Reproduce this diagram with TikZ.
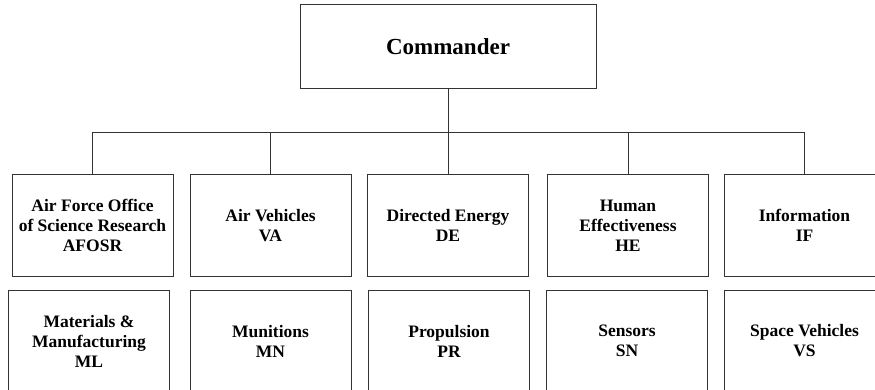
\documentclass[tikz,border=0pt]{standalone}
\usepackage{fontspec}
\setmainfont{Liberation Serif}

\begin{document}
\begin{tikzpicture}[x=1pt,y=1pt]

\def\horispace{178}
\def\vertspace{115.5}

\tikzstyle{unit}=[rectangle,draw=black!80,line width=1pt,minimum width=161pt,minimum height=101pt,inner sep=0pt,align=center,font=\fontsize{17.5}{20}\selectfont\bfseries]
\tikzstyle{head}=[unit,minimum width=296pt,minimum height=84pt,font=\fontsize{23}{26}\selectfont\bfseries]
\tikzstyle{link}=[draw=black!80,line width=1pt]

\useasboundingbox (0,0) rectangle (875,-390);

%commander
\node[head] (cmd) at (448,-47) {Commander};

%directorates, first row
\node[unit] (afosr) at (92.5,-225.5) {Air Force Office\\of Science Research\\AFOSR};
\node[unit] (va) at (270.5,-225.5) {Air Vehicles\\VA};
\node[unit] (de) at (448,-225.5) {Directed Energy\\DE};
\node[unit] (he) at (628,-225.5) {Human\\Effectiveness\\HE};
\node[unit] (inf) at (804.5,-225.5) {Information\\IF};

%directorates, second row
\node[unit] (ml) at (89,-225.5-\vertspace) {Materials \&\\Manufacturing\\ML};
\node[unit] (mn) at (270.5,-225.5-\vertspace) {Munitions\\MN};
\node[unit] (pr) at (449,-225.5-\vertspace) {Propulsion\\PR};
\node[unit] (sn) at (627,-225.5-\vertspace) {Sensors\\SN};
\node[unit] (vs) at (804.5,-225.5-\vertspace) {Space Vehicles\\VS};

\draw[link] (cmd.south) -- ++(0,-43) -| (afosr.north);
\draw[link] (cmd.south) -- ++(0,-43) -| (va.north);
\draw[link] (cmd.south) -- (de.north);
\draw[link] (cmd.south) -- ++(0,-43) -| (he.north);
\draw[link] (cmd.south) -- ++(0,-43) -| (inf.north);

\end{tikzpicture}
\end{document}
